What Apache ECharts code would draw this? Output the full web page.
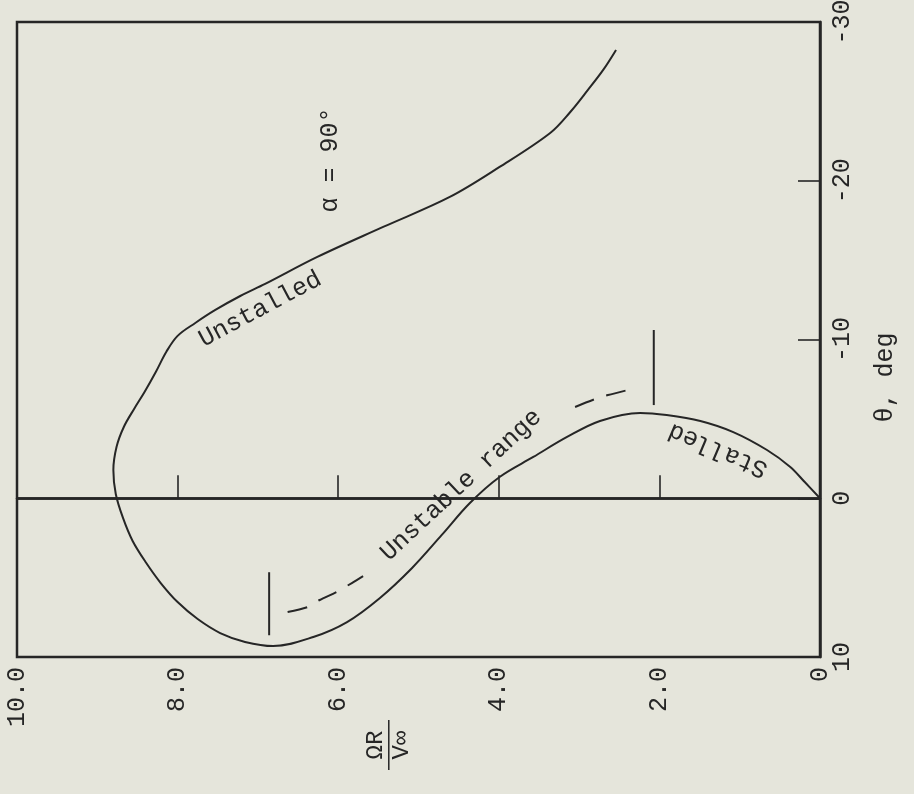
<!DOCTYPE html>
<html>
<head>
<meta charset="utf-8">
<script src="https://cdn.jsdelivr.net/npm/echarts@6/dist/echarts.min.js"></script>
<style>
  html, body { margin: 0; padding: 0; background: #e5e5db; }
  #chart { width: 914px; height: 794px; }
</style>
</head>
<body>
<div id="chart"></div>
<script>
// Tip-speed ratio ΩR/V∞ (horizontal) against pitch angle θ in degrees (vertical)
const speedTicks = [10, 8, 6, 4, 2, 0];
const speedTickLabels = ['10.0', '8.0', '6.0', '4.0', '2.0', '0'];
const pitchTicks = [-30, -20, -10, 0, 10];
const pitchTickLabels = ['-30', '-20', '-10', '0', '10'];

// Equilibrium curve, traced from the origin through the stalled branch,
// the unstable branch and up along the unstalled branch: [ΩR/V∞, θ]
const equilibriumCurve = [
  [0.00, 0.00], [0.19, -1.02], [0.37, -1.97], [0.66, -3.04], [1.08, -4.17],
  [1.49, -4.87], [1.91, -5.24], [2.24, -5.37], [2.74, -4.87], [3.15, -3.86],
  [3.57, -2.60], [3.99, -1.34], [4.36, 0.30], [4.71, 2.31], [5.08, 4.39],
  [5.48, 6.28], [5.89, 7.80], [6.31, 8.74], [6.81, 9.31], [7.16, 9.05],
  [7.47, 8.49], [7.75, 7.61], [8.00, 6.54], [8.21, 5.34], [8.39, 4.08],
  [8.56, 2.69], [8.68, 1.24], [8.77, -0.27], [8.80, -1.78], [8.76, -3.24],
  [8.67, -4.49], [8.54, -5.64], [8.41, -6.71], [8.27, -7.97], [8.14, -9.23],
  [8.00, -10.23], [7.78, -11.04], [7.53, -11.86], [7.22, -12.74], [6.91, -13.50],
  [6.26, -15.20], [5.44, -17.09], [4.61, -18.98], [3.99, -20.87], [3.36, -23.01],
  [3.11, -24.33], [2.89, -25.72], [2.70, -26.98], [2.54, -28.24]
];

// Dashed guide of the unstable range, on either side of its label
const unstableGuideLower = [[6.63, 7.16], [6.38, 6.85], [6.23, 6.41], [6.02, 5.90], [5.83, 5.34], [5.69, 4.90]];
const unstableGuideUpper = [[3.05, -5.75], [2.80, -6.25], [2.64, -6.50], [2.39, -6.82]];

// End markers of the unstable range
const rangeLimitLow = [[6.86, 4.66], [6.86, 8.63]];
const rangeLimitHigh = [[2.07, -10.60], [2.07, -5.87]];

// Text annotations anchored in data space: [ΩR/V∞, θ, rotation in degrees]
const annotations = [
  { text: 'Unstalled', at: [6.97, -11.90], rot: 28 },
  { text: 'Stalled', at: [1.27, -3.04], rot: 157 },
  { text: 'Unstable range', at: [4.47, -0.83], rot: 43 },
  { text: 'α = 90°', at: [6.10, -21.30], rot: 90 }
];

const ink = '#262626';
const font = '"Liberation Mono", "DejaVu Sans Mono", monospace';
const textSize = 25;

const chart = echarts.init(document.getElementById('chart'), null, { renderer: 'canvas' });

const lineSeries = (name, data, extra) => Object.assign({
  name, type: 'line', data,
  showSymbol: false, symbol: 'none', silent: true,
  lineStyle: { color: ink, width: 2 }
}, extra || {});

chart.setOption({
  animation: false,
  backgroundColor: '#e5e5db',
  grid: {
    left: 17, right: 94, top: 22, bottom: 137,
    containLabel: false, outerBoundsMode: 'none',
    show: true, borderColor: ink, borderWidth: 2.5, backgroundColor: 'transparent'
  },
  xAxis: {
    type: 'value', min: 0, max: 10, interval: 2, inverse: true,
    position: 'bottom',
    axisLine: { show: true, lineStyle: { color: ink, width: 2.5 } },
    axisTick: { show: true, inside: true, length: 23, lineStyle: { color: ink, width: 1.6 } },
    splitLine: { show: false },
    axisLabel: {
      rotate: 90, margin: 10, color: ink, fontFamily: font, fontSize: textSize,
      formatter: v => speedTickLabels[speedTicks.indexOf(v)]
    }
  },
  yAxis: {
    type: 'value', min: -30, max: 10, interval: 10, inverse: true,
    position: 'right',
    axisLine: { show: true, lineStyle: { color: ink, width: 2.5 } },
    axisTick: { show: true, inside: true, length: 22, lineStyle: { color: ink, width: 1.6 } },
    splitLine: { show: false },
    axisLabel: {
      rotate: 90, margin: 10, color: ink, fontFamily: font, fontSize: textSize,
      formatter: v => pitchTickLabels[pitchTicks.indexOf(v)]
    }
  },
  series: [
    lineSeries('equilibrium', equilibriumCurve, {
      smooth: 0.35,
      markLine: {
        silent: true, symbol: 'none', label: { show: false },
        lineStyle: { color: ink, width: 2.5, type: 'solid' },
        data: [{ yAxis: 0 }]
      }
    }),
    lineSeries('unstableLower', unstableGuideLower, { smooth: 0.3, lineStyle: { color: ink, width: 2, type: [20, 13] } }),
    lineSeries('unstableUpper', unstableGuideUpper, { smooth: 0.3, lineStyle: { color: ink, width: 2, type: [20, 13] } }),
    lineSeries('limitLow', rangeLimitLow),
    lineSeries('limitHigh', rangeLimitHigh)
  ]
});

// Place the curve annotations and axis titles
const textEl = (text, x, y, rotDeg) => ({
  type: 'text', x, y, rotation: rotDeg * Math.PI / 180, silent: true,
  style: {
    text, fill: ink, font: textSize + 'px ' + font,
    align: 'center', verticalAlign: 'middle', textAlign: 'center', textVerticalAlign: 'middle'
  }
});

const graphics = annotations.map(a => {
  const p = chart.convertToPixel({ gridIndex: 0 }, a.at);
  return textEl(a.text, p[0], p[1], a.rot);
});

// θ axis title on the right
const gridRect = chart.getModel().getComponent('grid').coordinateSystem.getRect();
graphics.push(textEl('θ, deg', gridRect.x + gridRect.width + 65, gridRect.y + gridRect.height * 0.56, 90));

// ΩR/V∞ written as a fraction beneath the horizontal axis
graphics.push({
  type: 'group',
  x: gridRect.x + gridRect.width * 0.463,
  y: gridRect.y + gridRect.height + 88,
  rotation: Math.PI / 2,
  children: [
    { type: 'text', x: 0, y: -13, style: { text: 'ΩR', fill: ink, font: '24px ' + font, align: 'center', verticalAlign: 'middle' } },
    { type: 'line', shape: { x1: -25, y1: 0, x2: 25, y2: 0 }, style: { stroke: ink, lineWidth: 1.5 } },
    { type: 'text', x: 0, y: 13, style: { text: 'V∞', fill: ink, font: '24px ' + font, align: 'center', verticalAlign: 'middle' } }
  ]
});

chart.setOption({ graphic: graphics });
</script>
</body>
</html>
